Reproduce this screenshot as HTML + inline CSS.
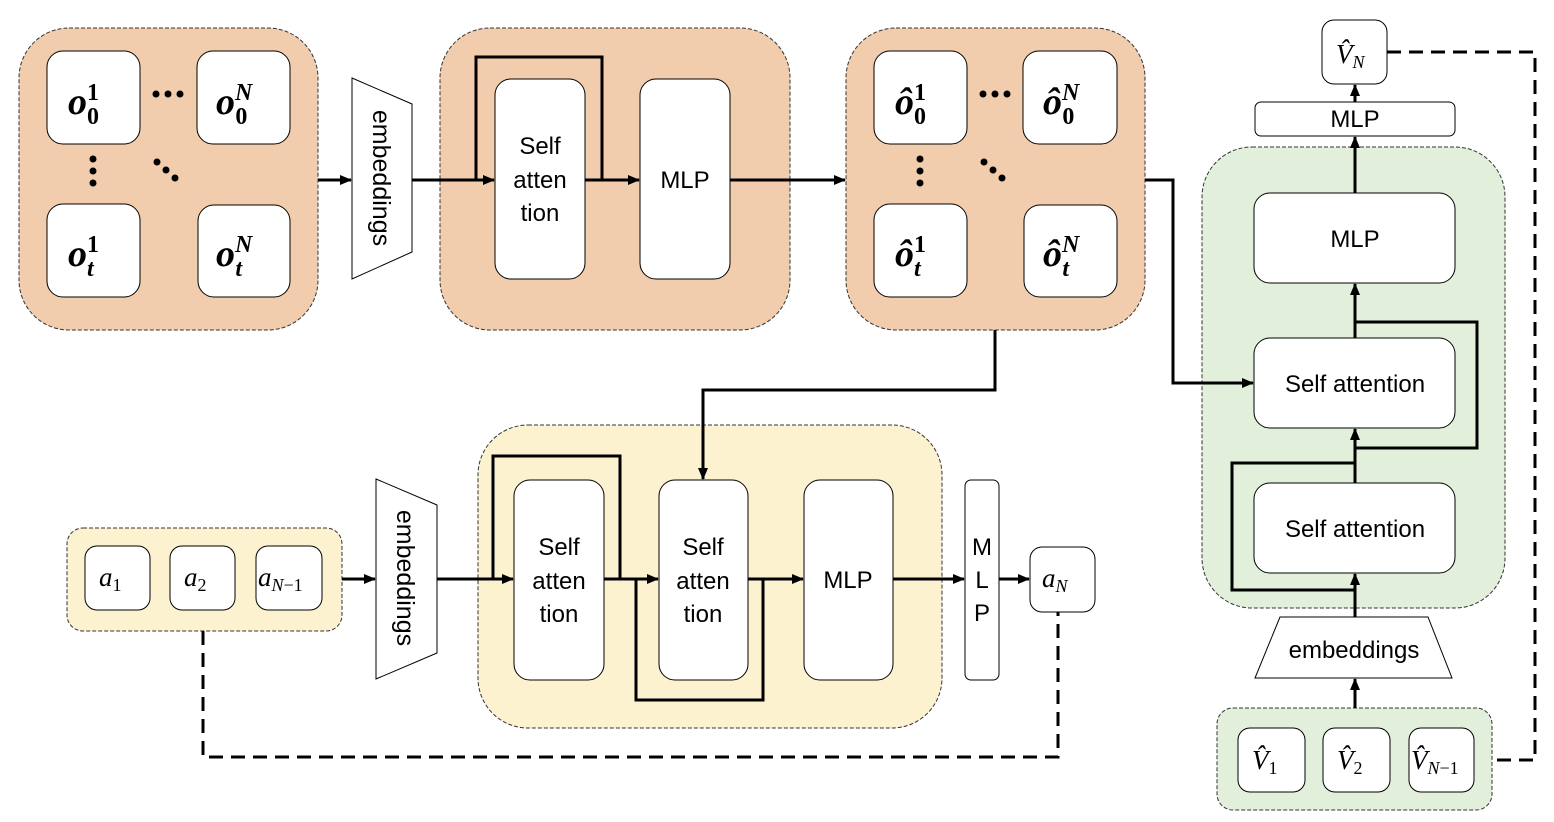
<!DOCTYPE html>
<html><head><meta charset="utf-8"><style>
html,body{margin:0;padding:0;background:#fff}
svg{display:block}
.t{font-family:"Liberation Sans",sans-serif;fill:#000}
.m{font-family:"Liberation Serif",serif;font-style:italic;fill:#000}
</style></head><body>
<svg width="1554" height="822" viewBox="0 0 1554 822" xmlns="http://www.w3.org/2000/svg">
<defs>
<marker id="arb" markerWidth="12" markerHeight="10" refX="11" refY="5" orient="auto" markerUnits="userSpaceOnUse">
<path d="M0,0 L12,5 L0,10 z" fill="#000"/></marker>
</defs>
<g stroke="#333" stroke-width="1" stroke-dasharray="4,2">
<rect x="19" y="28" width="299" height="302" rx="50" fill="#f1cdae"/>
<rect x="440" y="28" width="350" height="302" rx="50" fill="#f1cdae"/>
<rect x="846" y="28" width="299" height="302" rx="50" fill="#f1cdae"/>
<rect x="1202" y="147" width="303" height="461" rx="50" fill="#e2efda"/>
<rect x="1217" y="708" width="275" height="102" rx="16" fill="#e2efda"/>
<rect x="478" y="425" width="464" height="303" rx="50" fill="#fdf2d0"/>
<rect x="67" y="528" width="275" height="103" rx="16" fill="#fdf2d0"/>
</g>
<g fill="#fff" stroke="#000" stroke-width="1">
<rect x="47" y="51" width="93" height="93" rx="16"/>
<rect x="197" y="51" width="93" height="93" rx="16"/>
<rect x="47" y="204" width="93" height="93" rx="16"/>
<rect x="198" y="205" width="92" height="92" rx="16"/>
<rect x="874" y="51" width="93" height="93" rx="16"/>
<rect x="1023" y="51" width="94" height="93" rx="16"/>
<rect x="874" y="204" width="93" height="93" rx="16"/>
<rect x="1024" y="205" width="93" height="92" rx="16"/>
<rect x="495" y="79" width="90" height="200" rx="16"/>
<rect x="640" y="79" width="90" height="200" rx="16"/>
<rect x="514" y="480" width="90" height="200" rx="16"/>
<rect x="659" y="480" width="89" height="200" rx="16"/>
<rect x="804" y="480" width="89" height="200" rx="16"/>
<rect x="965" y="480" width="34" height="200" rx="6"/>
<rect x="1030" y="547" width="65" height="65" rx="12"/>
<rect x="85" y="546" width="65" height="64" rx="12"/>
<rect x="170" y="546" width="65" height="64" rx="12"/>
<rect x="256" y="546" width="66" height="64" rx="12"/>
<rect x="1254" y="193" width="201" height="90" rx="16"/>
<rect x="1254" y="338" width="201" height="90" rx="16"/>
<rect x="1254" y="483" width="201" height="90" rx="16"/>
<rect x="1255" y="102" width="200" height="34" rx="6"/>
<rect x="1322" y="20" width="65" height="64" rx="12"/>
<rect x="1238" y="728" width="67" height="64" rx="12"/>
<rect x="1323" y="728" width="67" height="64" rx="12"/>
<rect x="1409" y="728" width="65" height="64" rx="12"/>
<path d="M352,78 L412,104 L412,252 L352,279 Z"/>
<path d="M376,479 L437,505 L437,653 L376,679 Z"/>
<path d="M1280,617 L1428,617 L1452,678 L1255,678 Z"/>
</g>
<g fill="#000">
<circle cx="156" cy="94" r="3.5"/><circle cx="168" cy="94" r="3.5"/><circle cx="180" cy="94" r="3.5"/>
<circle cx="93" cy="159" r="3.5"/><circle cx="93" cy="171" r="3.5"/><circle cx="93" cy="183" r="3.5"/>
<circle cx="157" cy="162" r="3.5"/><circle cx="166" cy="170" r="3.5"/><circle cx="175" cy="178" r="3.5"/>
<circle cx="983" cy="94" r="3.5"/><circle cx="995" cy="94" r="3.5"/><circle cx="1007" cy="94" r="3.5"/>
<circle cx="920" cy="159" r="3.5"/><circle cx="920" cy="171" r="3.5"/><circle cx="920" cy="183" r="3.5"/>
<circle cx="984" cy="162" r="3.5"/><circle cx="993" cy="170" r="3.5"/><circle cx="1002" cy="178" r="3.5"/>
</g>
<g stroke="#000" stroke-width="3" fill="none">
<line x1="318" y1="180" x2="351" y2="180" marker-end="url(#arb)"/>
<line x1="412" y1="180" x2="494" y2="180" marker-end="url(#arb)"/>
<path d="M476,180 V57 H602 V180"/>
<line x1="585" y1="180" x2="639" y2="180" marker-end="url(#arb)"/>
<line x1="730" y1="180" x2="845" y2="180" marker-end="url(#arb)"/>
<path d="M1145,180 H1173 V383 H1253" marker-end="url(#arb)"/>
<path d="M995,330 V390 H703 V479" marker-end="url(#arb)"/>
<line x1="342" y1="579" x2="375" y2="579" marker-end="url(#arb)"/>
<line x1="437" y1="579" x2="513" y2="579" marker-end="url(#arb)"/>
<path d="M493,579 V456 H620 V579"/>
<line x1="604" y1="579" x2="658" y2="579" marker-end="url(#arb)"/>
<path d="M636,579 V700 H763 V579"/>
<line x1="748" y1="579" x2="803" y2="579" marker-end="url(#arb)"/>
<line x1="893" y1="579" x2="964" y2="579" marker-end="url(#arb)"/>
<line x1="999" y1="579" x2="1029" y2="579" marker-end="url(#arb)"/>
<line x1="1355" y1="708" x2="1355" y2="679" marker-end="url(#arb)"/>
<line x1="1355" y1="617" x2="1355" y2="574" marker-end="url(#arb)"/>
<path d="M1355,590 H1232 V463 H1355"/>
<line x1="1355" y1="483" x2="1355" y2="429" marker-end="url(#arb)"/>
<path d="M1355,448 H1477 V322 H1355"/>
<line x1="1355" y1="338" x2="1355" y2="284" marker-end="url(#arb)"/>
<line x1="1355" y1="193" x2="1355" y2="137" marker-end="url(#arb)"/>
<line x1="1355" y1="102" x2="1355" y2="85" marker-end="url(#arb)"/>
</g>
<g stroke="#000" stroke-width="3" fill="none" stroke-dasharray="14,8">
<path d="M1387,52 H1535 V760 H1492"/>
<path d="M203,631 V757 H1058 V612"/>
</g>
<g class="t" font-size="24" text-anchor="middle">
<text x="540" y="154">Self</text><text x="540" y="188">atten</text><text x="540" y="221">tion</text>
<text x="685" y="188">MLP</text>
<text x="559" y="555">Self</text><text x="559" y="589">atten</text><text x="559" y="622">tion</text>
<text x="703" y="555">Self</text><text x="703" y="589">atten</text><text x="703" y="622">tion</text>
<text x="848" y="588">MLP</text>
<text x="982" y="555">M</text><text x="982" y="588">L</text><text x="982" y="621">P</text>
<text x="1355" y="247">MLP</text>
<text x="1355" y="392">Self attention</text>
<text x="1355" y="537">Self attention</text>
<text x="1355" y="127">MLP</text>
<text x="1354" y="658">embeddings</text>
<text transform="translate(373,178) rotate(90)" font-size="25">embeddings</text>
<text transform="translate(397,578) rotate(90)" font-size="25">embeddings</text>
</g>
<g class="m" font-size="38" font-weight="bold">
<text x="68" y="114">o<tspan font-size="24" font-style="normal" dy="-14">1</tspan><tspan font-size="24" font-style="normal" dx="-12" dy="24">0</tspan></text>
<text x="216" y="114">o<tspan font-size="24" dy="-14">N</tspan><tspan font-size="24" font-style="normal" dx="-17" dy="24">0</tspan></text>
<text x="68" y="266">o<tspan font-size="24" font-style="normal" dy="-14">1</tspan><tspan font-size="24" dx="-12" dy="24">t</tspan></text>
<text x="216" y="266">o<tspan font-size="24" dy="-14">N</tspan><tspan font-size="24" dx="-17" dy="24">t</tspan></text>
<text x="895" y="114">ô<tspan font-size="24" font-style="normal" dy="-14">1</tspan><tspan font-size="24" font-style="normal" dx="-12" dy="24">0</tspan></text>
<text x="1043" y="114">ô<tspan font-size="24" dy="-14">N</tspan><tspan font-size="24" font-style="normal" dx="-17" dy="24">0</tspan></text>
<text x="895" y="266">ô<tspan font-size="24" font-style="normal" dy="-14">1</tspan><tspan font-size="24" dx="-12" dy="24">t</tspan></text>
<text x="1043" y="266">ô<tspan font-size="24" dy="-14">N</tspan><tspan font-size="24" dx="-17" dy="24">t</tspan></text>
</g>
<g class="m" font-size="27">
<text x="99" y="586">a<tspan font-size="18" font-style="normal" dy="5">1</tspan></text>
<text x="184" y="586">a<tspan font-size="18" font-style="normal" dy="5">2</tspan></text>
<text x="258" y="586">a<tspan font-size="18" dy="5">N</tspan><tspan font-size="18" font-style="normal">−1</tspan></text>
<text x="1042" y="587">a<tspan font-size="18" dy="5">N</tspan></text>
<text x="1336" y="63">V̂<tspan font-size="18" dy="5">N</tspan></text>
<text x="1252" y="769">V̂<tspan font-size="18" font-style="normal" dy="5">1</tspan></text>
<text x="1337" y="769">V̂<tspan font-size="18" font-style="normal" dy="5">2</tspan></text>
<text x="1411" y="769">V̂<tspan font-size="18" dy="5">N</tspan><tspan font-size="18" font-style="normal">−1</tspan></text>
</g>
</svg>
</body></html>
